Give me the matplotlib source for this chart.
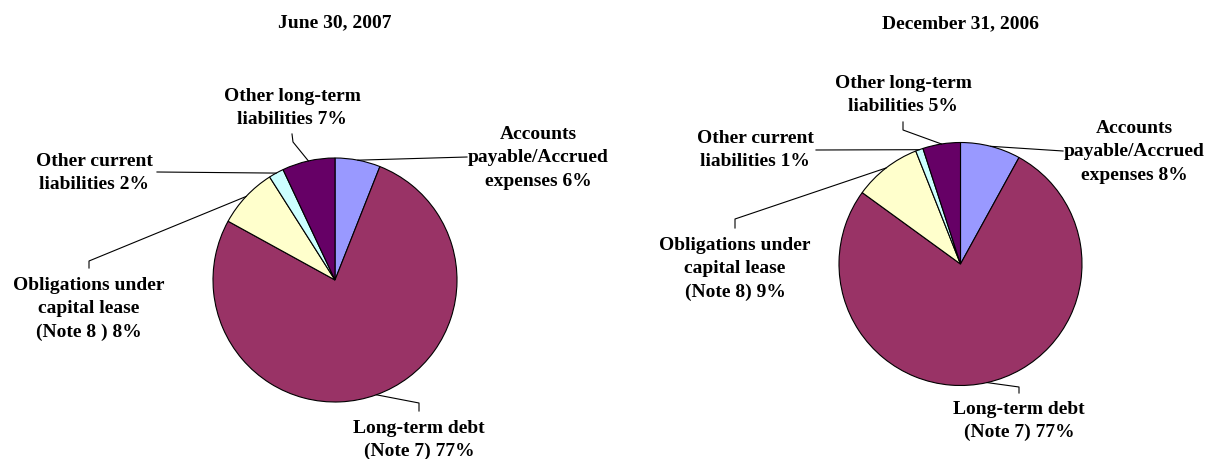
import numpy as np
import matplotlib
matplotlib.use("Agg")
import matplotlib.pyplot as plt

W, H = 1206, 459

titles = ["June 30, 2007", "December 31, 2006"]
colors = ["#9999FF", "#993366", "#FFFFCC", "#CCFFFF", "#660066"]

values_2007 = [6, 77, 8, 2, 7]
labels_2007 = ["Accounts\npayable/Accrued\nexpenses 6%",
               "Long-term debt\n(Note 7) 77%",
               "Obligations under\ncapital lease\n(Note 8 ) 8%",
               "Other current\nliabilities 2%",
               "Other long-term\nliabilities 7%"]

values_2006 = [8, 77, 9, 1, 5]
labels_2006 = ["Accounts\npayable/Accrued\nexpenses 8%",
               "Long-term debt\n(Note 7) 77%",
               "Obligations under\ncapital lease\n(Note 8) 9%",
               "Other current\nliabilities 1%",
               "Other long-term\nliabilities 5%"]

# layout (pixel coordinates, y measured from top)
charts = [
    dict(values=values_2007, labels=labels_2007, title=titles[0],
         center=(335, 280), r=122, title_pos=(335, 23),
         text_pos=[(538, 158), (419, 440), (89, 309), (94, 173), (292, 108)],
         leaders=[[(467, 157)], [(419, 411), (419, 403)], [(89, 268), (89, 261)],
                  [(157, 172)], [(292, 134), (293, 142)]]),
    dict(values=values_2006, labels=labels_2006, title=titles[1],
         center=(960.5, 264), r=121.5, title_pos=(961, 24),
         text_pos=[(1134, 152), (1019, 421), (735, 269), (755, 150), (903, 95)],
         leaders=[[(1063, 151)], [(1019, 393), (1019, 387)], [(735, 228), (735, 219)],
                  [(816, 150)], [(903, 122), (903, 130)]]),
]

fig = plt.figure(figsize=(W / 100, H / 100), dpi=100)
ax = fig.add_axes([0, 0, 1, 1])
ax.set_xlim(0, W)
ax.set_ylim(0, H)
ax.set_aspect("equal")
ax.axis("off")

font = dict(family=["Liberation Serif", "DejaVu Serif"], weight="bold", size=14)

for ch in charts:
    cx, cy = ch["center"]
    r = ch["r"]
    wedges, _ = ax.pie(ch["values"], colors=colors, startangle=90, counterclock=False,
                       center=(cx, H - cy), radius=r,
                       wedgeprops=dict(edgecolor="black", linewidth=0.8))
    ax.text(ch["title_pos"][0], H - ch["title_pos"][1], ch["title"],
            ha="center", va="center", **font)
    for w, lab, tp, pts in zip(wedges, ch["labels"], ch["text_pos"], ch["leaders"]):
        ax.text(tp[0], H - tp[1], lab, ha="center", va="center", linespacing=1.5, **font)
        mid = np.deg2rad((w.theta1 + w.theta2) / 2)
        ex, ey = cx + r * np.cos(mid), (H - cy) + r * np.sin(mid)
        xs = [p[0] for p in pts] + [ex]
        ys = [H - p[1] for p in pts] + [ey]
        ax.plot(xs, ys, color="black", lw=0.8)

ax.set_xlim(0, W)
ax.set_ylim(0, H)
fig.savefig("out.png", dpi=100, facecolor="white")
